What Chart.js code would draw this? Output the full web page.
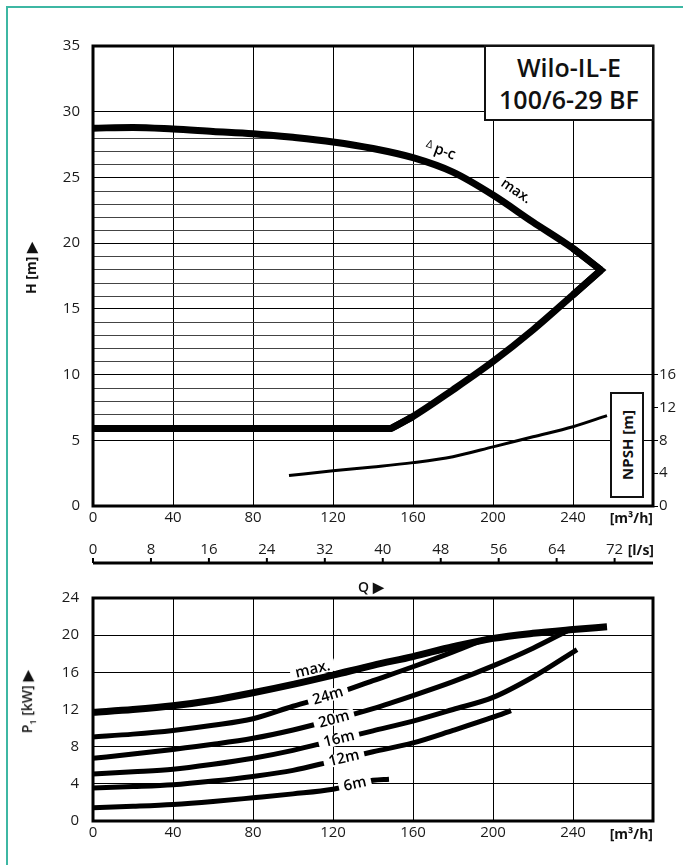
<!DOCTYPE html>
<html>
<head>
<meta charset="utf-8">
<title>Wilo-IL-E 100/6-29 BF</title>
<script src="https://cdn.jsdelivr.net/npm/chart.js@4.4.1/dist/chart.umd.min.js"></script>
<style>
  html, body { margin: 0; padding: 0; background: #fff; }
  body { position: relative; width: 683px; height: 865px; overflow: hidden;
         font-family: "Open Sans", sans-serif; color: #111; }
  .edge { position: absolute; left: 6px; top: 6px; width: 720px; height: 900px;
          border-left: 2px solid #3db7a3; border-top: 2px solid #3db7a3; }
  canvas { position: absolute; left: 0; }
  #hq { top: 0; }
  #pq { top: 575px; }
  .t { position: absolute; white-space: nowrap; line-height: 20px; font-size: 14px; }
  .unit { font-weight: 700; }
  .v { transform: translate(-50%, -50%) rotate(-90deg); }
  .title { position: absolute; left: 484px; top: 45px; width: 170px; height: 76px; box-sizing: border-box;
           border: 2px solid #111; background: #fff; display: flex; flex-direction: column;
           align-items: center; justify-content: center; font-size: 25px; font-weight: 600; line-height: 32px; }
  .npsh { position: absolute; left: 610px; top: 392px; width: 34px; height: 106px; box-sizing: border-box;
          border: 2px solid #111; background: #fff; }
  .npsh span { position: absolute; left: 50%; top: 50%; transform: translate(-50%, -50%) rotate(-90deg);
               font-size: 15px; font-weight: 700; white-space: nowrap; }
</style>
</head>
<body>
<div class="edge"></div>
<canvas id="hq" width="683" height="575"></canvas>
<canvas id="pq" width="683" height="290"></canvas>

<div class="title"><div>Wilo-IL-E</div><div>100/6-29 BF</div></div>
<div class="npsh"><span>NPSH [m]</span></div>
<div class="t v" style="left:31px; top:268px; font-weight:700;">H [m] ▶</div>
<div class="t unit" style="right:30px; top:508px;">[m³/h]</div>
<div class="t unit" style="right:29px; top:540px;">[l/s]</div>
<div class="t" style="left:358px; top:577px; font-weight:600;">Q ▶</div>
<div class="t v" style="left:30px; top:702px; font-weight:600;">P<sub style="font-size:9px">1</sub> [kW] ▶</div>
<div class="t unit" style="right:30px; top:824px;">[m³/h]</div>

<script>
// ---- ticks
const qTicks = [0, 40, 80, 120, 160, 200, 240, 280];      // m³/h
const lsTicks = [0, 8, 16, 24, 32, 40, 48, 56, 64, 72];   // l/s
const hTicks = [0, 5, 10, 15, 20, 25, 30, 35];            // H [m]
const npshTicks = [0, 4, 8, 12, 16];                      // NPSH [m]
const pTicks = [0, 4, 8, 12, 16, 20, 24];                 // P1 [kW]

// ---- Δp-c max curve
const maxQ = [0, 20, 40, 60, 80, 100, 120, 140, 160, 180, 200, 220, 240, 254];
const maxH = [28.75, 28.8, 28.68, 28.5, 28.33, 28.05, 27.7, 27.2, 26.5, 25.4, 23.66, 21.6, 19.6, 17.95];
// ---- right edge of the field (knee at the 6 m floor up to the tip)
const edgeQ = [149, 160, 180, 200, 220, 240, 254];
const edgeH = [5.9, 6.81, 8.84, 10.99, 13.4, 16.06, 17.95];
const floorQ = [0, 149];
const floorH = [5.9, 5.9];
// sharp corners of the field, drawn mitred
const tipQ = [240, 254, 240];
const tipH = [19.6, 17.95, 16.06];
const kneeQ = [140, 149, 160];
const kneeH = [5.9, 5.9, 6.81];

// ---- NPSH
const npshQ = [98, 120, 140, 160, 180, 200, 220, 240, 257];
const npshV = [3.7, 4.3, 4.76, 5.28, 6.0, 7.2, 8.43, 9.65, 11.0];

// ---- P1 curves
const pMaxQ = [0, 20, 40, 60, 80, 100, 120, 140, 160, 180, 200, 220, 240, 257];
const pMax  = [11.7, 12.0, 12.4, 13.0, 13.8, 14.7, 15.7, 16.75, 17.7, 18.75, 19.65, 20.2, 20.6, 20.9];
const p24Q = [0, 20, 40, 60, 80, 100, 120, 140, 160, 180, 195];
const p24  = [9.05, 9.35, 9.75, 10.3, 11.0, 12.35, 13.6, 15.1, 16.6, 18.2, 19.5];
const p20Q = [0, 20, 40, 60, 80, 100, 120, 140, 160, 180, 200, 220, 237];
const p20  = [6.75, 7.2, 7.7, 8.25, 8.9, 9.8, 10.9, 12.1, 13.5, 15.0, 16.7, 18.6, 20.45];
const p16Q = [0, 20, 40, 60, 80, 100, 120, 140, 160, 180, 200, 220, 242];
const p16  = [5.07, 5.3, 5.57, 6.1, 6.75, 7.6, 8.65, 9.7, 10.75, 12.0, 13.3, 15.5, 18.45];
const p12Q = [0, 20, 40, 60, 80, 100, 120, 140, 160, 180, 200, 209];
const p12  = [3.55, 3.7, 3.9, 4.3, 4.8, 5.45, 6.45, 7.45, 8.4, 9.75, 11.17, 11.88];
const p6Q  = [0, 20, 40, 60, 80, 100, 120, 140, 148];
const p6   = [1.42, 1.58, 1.78, 2.1, 2.5, 2.92, 3.42, 4.38, 4.5];

// ---- curve labels: dataset index, Q position, offset from the curve
const headLabels = [
  { ds: 0, q: 171, off: -16, pre: 'Δ', text: 'p-c', size: 15 },
  { ds: 0, q: 207, off: -16, text: 'max.', size: 14 }
];
const powerLabels = [
  { ds: 0, q: 111, off: -10, text: 'max.', size: 15 },
  { ds: 1, q: 117.5, off: 0, text: '24m', size: 15 },
  { ds: 2, q: 120.5, off: 0, text: '20m', size: 15 },
  { ds: 3, q: 123, off: 0, text: '16m', size: 15 },
  { ds: 4, q: 125.5, off: 0, text: '12m', size: 15 },
  { ds: 5, q: 131, off: 0, text: '6m', size: 15 }
];

Chart.defaults.font.family = '"Open Sans", sans-serif';
Chart.defaults.font.size = 15;
Chart.defaults.color = '#1a1a1a';

const pts = (qs, vs) => qs.map((q, i) => ({ x: q, y: vs[i] }));
const setTicks = arr => s => { s.ticks = arr.map(v => ({ value: v })); };
const FONT = '"Open Sans", sans-serif';

/* horizontal 1 m lines inside the Δp-c field */
const hatch = {
  id: 'hatch',
  beforeDatasetsDraw(chart, args, opts) {
    if (!opts.on) return;
    const { ctx, chartArea: a, scales: { y } } = chart;
    const m = i => chart.getDatasetMeta(i).data.slice();
    const p = m(0).concat(m(1).reverse(), m(2).reverse());
    ctx.save();
    ctx.beginPath();
    p.forEach((pt, i) => i ? ctx.lineTo(pt.x, pt.y) : ctx.moveTo(pt.x, pt.y));
    ctx.closePath();
    ctx.clip();
    ctx.strokeStyle = '#444';
    ctx.lineWidth = 1;
    for (let h = 1; h < 35; h++) {
      if (h % 5 === 0) continue;
      const py = Math.round(y.getPixelForValue(h)) + 0.5;
      ctx.beginPath(); ctx.moveTo(a.left, py); ctx.lineTo(a.right, py); ctx.stroke();
    }
    ctx.restore();
  }
};

/* labels sitting on / along a curve, white box behind */
const curveLabels = {
  id: 'curveLabels',
  afterDatasetsDraw(chart, args, opts) {
    const ctx = chart.ctx, xs = chart.scales.x;
    (opts.items || []).forEach(it => {
      const p = chart.getDatasetMeta(it.ds).data;
      const at = x => {
        for (let i = 0; i < p.length - 1; i++) {
          const a = p[i], b = p[i + 1];
          if (a.x !== b.x && (a.x - x) * (b.x - x) <= 0) return a.y + (b.y - a.y) * (x - a.x) / (b.x - a.x);
        }
        return null;
      };
      const px = xs.getPixelForValue(it.q);
      const ang = Math.atan2(at(px + 8) - at(px - 8), 16);
      ctx.save();
      ctx.translate(px, at(px));
      ctx.rotate(ang);
      ctx.font = '600 ' + it.size + 'px ' + FONT;
      const wt = ctx.measureText(it.text).width;
      let wp = 0;
      if (it.pre) { ctx.font = '400 11px ' + FONT; wp = ctx.measureText(it.pre).width + 3; }
      const w = wt + wp;
      ctx.fillStyle = '#fff';
      ctx.fillRect(-w / 2 - 5, it.off - 6, w + 10, 12);
      ctx.fillStyle = '#000';
      ctx.textBaseline = 'middle';
      ctx.textAlign = 'left';
      if (it.pre) { ctx.font = '400 11px ' + FONT; ctx.fillText(it.pre, -w / 2, it.off - 2); }
      ctx.font = '600 ' + it.size + 'px ' + FONT;
      ctx.fillText(it.text, -w / 2 + wp, it.off);
      ctx.restore();
    });
  }
};

const frame = {
  id: 'frame',
  afterDatasetsDraw(chart) {
    const { ctx, chartArea: a } = chart;
    ctx.save();
    ctx.strokeStyle = '#000';
    ctx.lineWidth = 3;
    ctx.strokeRect(a.left, a.top, a.right - a.left, a.bottom - a.top);
    ctx.restore();
  }
};

/* l/s scale: line under the labels, ticks pointing up */
const lsAxis = {
  id: 'lsAxis',
  afterDraw(chart) {
    const s = chart.scales.x2;
    if (!s) return;
    const ctx = chart.ctx, y = s.top + 28;
    ctx.save();
    ctx.strokeStyle = '#000';
    ctx.lineWidth = 3;
    ctx.beginPath(); ctx.moveTo(s.left, y); ctx.lineTo(s.right, y); ctx.stroke();
    ctx.lineWidth = 2;
    s.ticks.forEach(t => {
      const x = s.getPixelForValue(t.value);
      ctx.beginPath(); ctx.moveTo(x, y); ctx.lineTo(x, y - 5); ctx.stroke();
    });
    ctx.restore();
  }
};

const line = (data, w, extra) => Object.assign({
  data, borderColor: '#000', borderWidth: w, pointRadius: 0, showLine: true,
  borderCapStyle: 'butt', borderJoinStyle: 'miter'
}, extra || {});
const mono = { cubicInterpolationMode: 'monotone' };

const grid = { color: '#000', lineWidth: 1, drawTicks: false };
const qLabel = v => (v === 280 ? '' : v);

new Chart(document.getElementById('hq'), {
  type: 'scatter',
  data: {
    datasets: [
      line(pts(maxQ, maxH), 7, mono),
      line(pts(edgeQ, edgeH), 7, mono),
      line(pts(floorQ, floorH), 7, { tension: 0 }),
      line(pts(tipQ, tipH), 7, { tension: 0 }),
      line(pts(kneeQ, kneeH), 7, { tension: 0 }),
      line(pts(npshQ, npshV), 3, Object.assign({ yAxisID: 'y2' }, mono))
    ]
  },
  options: {
    responsive: false, animation: false, events: [],
    layout: { padding: { top: 46, left: 0, right: 0, bottom: 0 } },
    plugins: { legend: { display: false }, tooltip: { enabled: false },
               hatch: { on: true }, curveLabels: { items: headLabels } },
    scales: {
      x: { type: 'linear', position: 'bottom', min: 0, max: 280, weight: 0,
           afterBuildTicks: setTicks(qTicks), afterFit: s => { s.height = 29; },
           grid, border: { display: false },
           ticks: { padding: 3, maxRotation: 0, autoSkip: false, callback: qLabel } },
      x2: { type: 'linear', position: 'bottom', min: 0, max: 77.3, weight: 1,
            afterBuildTicks: setTicks(lsTicks), afterFit: s => { s.height = 40; },
            grid: { display: false, drawTicks: false }, border: { display: false },
            ticks: { padding: 6, maxRotation: 0, autoSkip: false } },
      y: { type: 'linear', position: 'left', min: 0, max: 35,
           afterBuildTicks: setTicks(hTicks), afterFit: s => { s.width = 93; },
           grid, border: { display: false }, ticks: { padding: 13 } },
      y2: { type: 'linear', position: 'right', min: 0, max: 56,
            afterBuildTicks: setTicks(npshTicks), afterFit: s => { s.width = 30; },
            grid: { drawOnChartArea: false, color: '#000', tickLength: 5 }, border: { display: false },
            ticks: { padding: 1 } }
    }
  },
  plugins: [hatch, curveLabels, frame, lsAxis]
});

new Chart(document.getElementById('pq'), {
  type: 'scatter',
  data: {
    datasets: [
      line(pts(pMaxQ, pMax), 7, mono),
      line(pts(p24Q, p24), 5, mono),
      line(pts(p20Q, p20), 5, mono),
      line(pts(p16Q, p16), 5, mono),
      line(pts(p12Q, p12), 5, mono),
      line(pts(p6Q, p6), 5, mono)
    ]
  },
  options: {
    responsive: false, animation: false, events: [],
    layout: { padding: { top: 21, left: 0, right: 30, bottom: 0 } },
    plugins: { legend: { display: false }, tooltip: { enabled: false },
               curveLabels: { items: powerLabels } },
    scales: {
      x: { type: 'linear', position: 'bottom', min: 0, max: 280,
           afterBuildTicks: setTicks(qTicks), afterFit: s => { s.height = 44; },
           grid, border: { display: false },
           ticks: { padding: 3, maxRotation: 0, autoSkip: false, callback: qLabel } },
      y: { type: 'linear', position: 'left', min: 0, max: 24,
           afterBuildTicks: setTicks(pTicks), afterFit: s => { s.width = 93; },
           grid, border: { display: false }, ticks: { padding: 14 } }
    }
  },
  plugins: [curveLabels, frame]
});
</script>
</body>
</html>
